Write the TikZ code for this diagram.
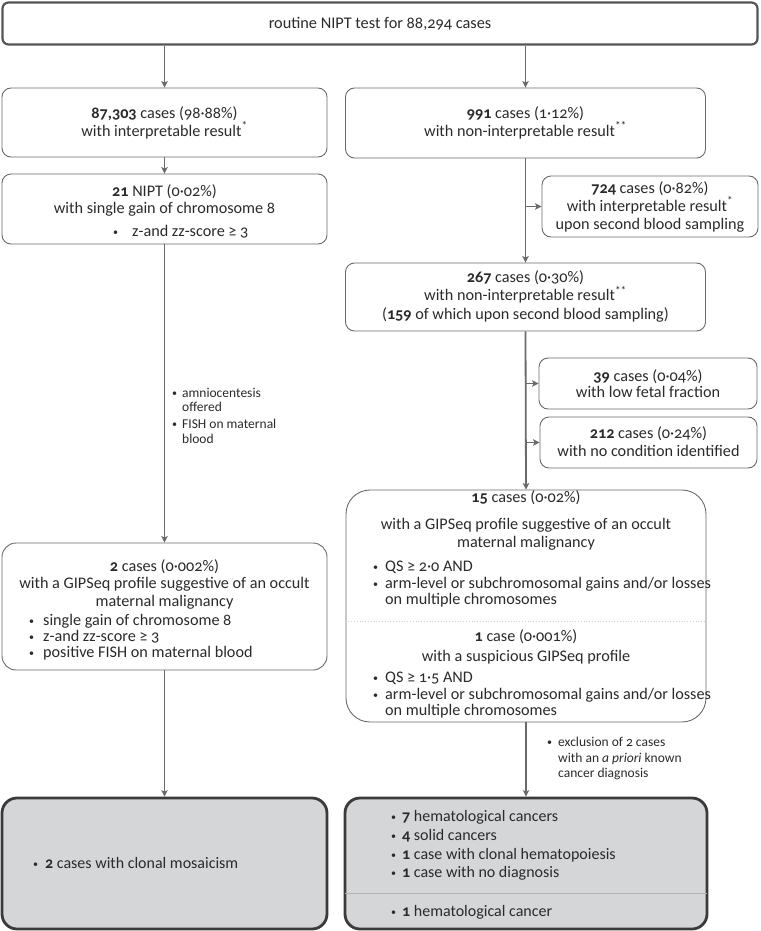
\documentclass[tikz,border=0pt]{standalone}
\usepackage{fontspec}
\setmainfont{Carlito}[Numbers=OldStyle]
\usetikzlibrary{arrows.meta}
\definecolor{linegray}{HTML}{6A6A6A}
\definecolor{thickline}{HTML}{555555}
\definecolor{darkline}{HTML}{3A3A3A}
\definecolor{boxfill}{HTML}{D5D6D8}
\definecolor{divgray}{HTML}{D0D0D0}
\definecolor{txtcol}{HTML}{2A2A2A}
\newcommand\smallbullet{\raisebox{0.9pt}{\fontsize{10}{10}\selectfont•}}
\newcommand\tline[5][txt]{\node[#1,anchor=base] (#2) at (#3,#4) {#5};}
\newcommand\bline[6][txt]{\node[#1,anchor=base west] (#2) at (#3,#4) {\makebox[#5pt][l]{\smallbullet}#6};}
\begin{document}
\begin{tikzpicture}[x=1pt,y=-1pt,
  txt/.style={inner sep=0pt,text=txtcol,font=\fontsize{16.2}{18}\selectfont},
  smalltxt/.style={txt,font=\fontsize{13.5}{16}\selectfont},
  bigtxt/.style={txt,font=\fontsize{16}{18}\selectfont},
  toptxt/.style={txt,font=\fontsize{16.3}{18}\selectfont},
  topbox/.style={draw=thickline,line width=2.2pt,rounded corners=6pt,inner sep=0pt},
  thinbox/.style={draw=linegray,line width=0.9pt,rounded corners=9pt,inner sep=0pt},
  endbox/.style={draw=darkline,fill=boxfill,line width=2.8pt,rounded corners=15pt,inner sep=0pt},
  arr/.style={draw=linegray,line width=1.8pt,-{Stealth[length=6.5pt,width=6.5pt,inset=1.5pt]}},
  divider/.style={draw=divgray,line width=0.8pt}]
\useasboundingbox (0,0) rectangle (760,931);

% boxes
\node[topbox,minimum width=755pt,minimum height=42pt] (top) at (380,23.5) {};
\node[thinbox,minimum width=325pt,minimum height=69pt] (A) at (164.5,122.5) {};
\node[thinbox,minimum width=360pt,minimum height=70pt] (B) at (525.5,123) {};
\node[thinbox,minimum width=325pt,minimum height=70pt] (C) at (164.5,209) {};
\node[thinbox,minimum width=216pt,minimum height=61pt] (D) at (650,206.5) {};
\node[thinbox,minimum width=360pt,minimum height=68pt] (E) at (525.5,297) {};
\node[thinbox,minimum width=218pt,minimum height=51pt] (F) at (648,383.5) {};
\node[thinbox,minimum width=217pt,minimum height=51pt] (G) at (648.5,442.5) {};
\node[thinbox,rounded corners=24pt,minimum width=360pt,minimum height=232pt] (H) at (526,606) {};
\node[thinbox,rounded corners=14pt,minimum width=325pt,minimum height=127pt] (I) at (164.5,606.5) {};
\node[endbox,minimum width=325pt,minimum height=131pt] (J) at (164.5,863.5) {};
\node[endbox,minimum width=362pt,minimum height=131pt] (K) at (526,863.5) {};

% dividers
\draw[divider,dotted] (H.west |- 0,621) -- (H.east |- 0,621);
\draw[divider,draw=gray!60] ([xshift=1.5pt]K.west |- 0,893) -- ([xshift=-1.5pt]K.east |- 0,893);

% connectors
\draw[arr] (A.north |- top.south) -- (A.north);
\draw[arr] (B.north |- top.south) -- (B.north);
\draw[arr] (A.south) -- (C.north);
\draw[arr] (B.south) -- (E.north);
\draw[arr] (B.south |- D.west) -- (D.west);
\draw[arr] (E.south) -- (H.north);
\draw[arr] (E.south |- F.west) -- (F.west);
\draw[arr] (E.south |- G.west) -- (G.west);
\draw[arr] (C.south) -- (I.north);
\draw[arr] (I.south) -- (J.north);
\draw[arr] (H.south) -- (K.north);

% texts
\tline[toptxt]{t0}{380}{29}{routine NIPT test for 88,294 cases}
\tline{a1}{164.5}{118}{\textbf{87,303} cases (98·88\%)}
\tline{a2}{164.5}{136}{with interpretable result\textsuperscript{*}}
\tline{b1}{525.5}{118}{\textbf{991} cases (1·12\%)}
\tline{b2}{525.5}{136}{with non-interpretable result\textsuperscript{**}}
\tline{c1}{164.5}{196}{\textbf{21} NIPT (0·02\%)}
\tline{c2}{164.5}{213.5}{with single gain of chromosome 8}
\bline{c3}{113}{236.5}{19}{z-and zz-score ≥ 3}
\tline{d1}{650}{193}{\textbf{724} cases (0·82\%)}
\tline{d2}{650}{211}{with interpretable result\textsuperscript{*}}
\tline{d3}{650}{229}{upon second blood sampling}
\tline{e1}{525.5}{282}{\textbf{267} cases (0·30\%)}
\tline{e2}{525.5}{300.5}{with non-interpretable result\textsuperscript{**}}
\tline{e3}{525.5}{319}{(\textbf{159} of which upon second blood sampling)}
\tline{f1}{648}{381}{\textbf{39} cases (0·04\%)}
\tline{f2}{648}{397.5}{with low fetal fraction}
\tline{g1}{648.5}{438}{\textbf{212} cases (0·24\%)}
\tline{g2}{648.5}{456}{with no condition identified}
\tline{h1}{526}{502}{\textbf{15} cases (0·02\%)}
\tline{h2}{526}{529}{with a GIPSeq profile suggestive of an occult}
\tline{h3}{526}{547}{maternal malignancy}
\bline{h4}{373}{571}{12}{QS ≥ 2·0 AND}
\bline{h5}{373}{588}{12}{arm-level or subchromosomal gains and/or losses}
\node[txt,anchor=base west] (h6) at (385,604) {on multiple chromosomes};
\tline{h7}{526}{641}{\textbf{1} case (0·001\%)}
\tline{h8}{526}{661}{with a suspicious GIPSeq profile}
\bline{h9}{373}{682}{12}{QS ≥ 1·5 AND}
\bline{h10}{373}{699}{12}{arm-level or subchromosomal gains and/or losses}
\node[txt,anchor=base west] (h11) at (385,715) {on multiple chromosomes};
\tline{i1}{164.5}{571}{\textbf{2} cases (0·002\%)}
\tline{i2}{164.5}{588}{with a GIPSeq profile suggestive of an occult}
\tline{i3}{164.5}{606}{maternal malignancy}
\bline{i4}{29}{625}{14}{single gain of chromosome 8}
\bline{i5}{29}{641}{14}{z-and zz-score ≥ 3}
\bline{i6}{29}{657}{14}{positive FISH on maternal blood}
\bline[smalltxt]{l1}{172}{397}{10}{amniocentesis}
\node[smalltxt,anchor=base west] (l2) at (182,411) {offered};
\bline[smalltxt]{l3}{172}{428}{10}{FISH on maternal}
\node[smalltxt,anchor=base west] (l4) at (182,443) {blood};
\bline[smalltxt]{m1}{547}{746}{11}{exclusion of 2 cases}
\node[smalltxt,anchor=base west] (m2) at (558,762) {with an \textit{a priori} known};
\node[smalltxt,anchor=base west] (m3) at (558,777) {cancer diagnosis};
\bline[bigtxt]{j1}{33}{868}{12}{\textbf{2} cases with clonal mosaicism}
\bline[bigtxt]{k1}{391}{821}{11}{\textbf{7} hematological cancers}
\bline[bigtxt]{k2}{391}{840}{11}{\textbf{4} solid cancers}
\bline[bigtxt]{k3}{391}{859}{11}{\textbf{1} case with clonal hematopoiesis}
\bline[bigtxt]{k4}{391}{877}{11}{\textbf{1} case with no diagnosis}
\bline[bigtxt]{k5}{391}{916}{11}{\textbf{1} hematological cancer}
\end{tikzpicture}
\end{document}
